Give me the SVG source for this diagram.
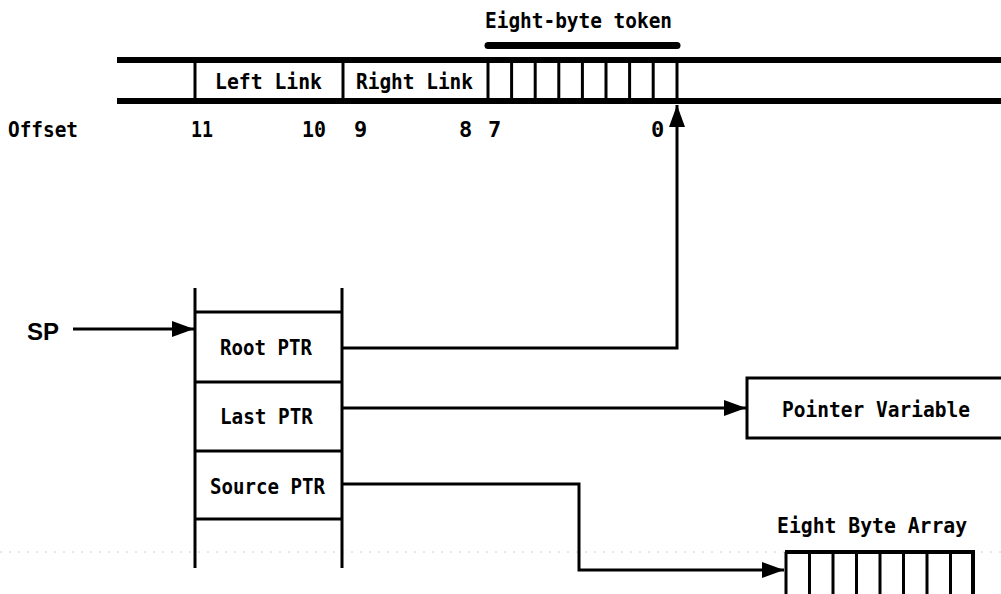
<svg xmlns="http://www.w3.org/2000/svg" width="1001" height="594" viewBox="0 0 1001 594">
<defs>
<style>
.t{font-family:"DejaVu Sans Mono","Liberation Mono",monospace;font-weight:bold;font-size:22px;fill:#000}
.ln{stroke:#000;stroke-width:3;fill:none}
.thick{stroke:#000;stroke-width:6;fill:none}
.cn{stroke:#000;stroke-width:3;fill:none;marker-end:url(#ah)}
</style>
<marker id="ah" markerUnits="userSpaceOnUse" markerWidth="24" markerHeight="18" refX="22" refY="8" orient="auto">
<path d="M0,0 L22,8 L0,16 z" fill="#000"/>
</marker>
</defs>
<rect width="1001" height="594" fill="#fff"/>
<g id="scan-line"><line x1="0" y1="552" x2="1001" y2="552" stroke="#d0d0d0" stroke-width="1" stroke-dasharray="2,7"/></g>
<g id="token-record">
<line class="thick" x1="117" y1="60" x2="1001" y2="60"/>
<line class="thick" x1="117" y1="101" x2="1001" y2="101"/>
<line class="ln" x1="195" y1="60" x2="195" y2="101"/>
<line class="ln" x1="343" y1="60" x2="343" y2="101"/>
<line class="ln" x1="488" y1="60" x2="488" y2="101"/>
<line class="ln" x1="511.6" y1="60" x2="511.6" y2="101"/>
<line class="ln" x1="535.2" y1="60" x2="535.2" y2="101"/>
<line class="ln" x1="558.8" y1="60" x2="558.8" y2="101"/>
<line class="ln" x1="582.4" y1="60" x2="582.4" y2="101"/>
<line class="ln" x1="606" y1="60" x2="606" y2="101"/>
<line class="ln" x1="629.6" y1="60" x2="629.6" y2="101"/>
<line class="ln" x1="653.2" y1="60" x2="653.2" y2="101"/>
<line class="ln" x1="677" y1="60" x2="677" y2="101"/>
<text class="t" x="215" y="89" textLength="107" lengthAdjust="spacingAndGlyphs">Left Link</text>
<text class="t" x="356" y="89" textLength="117" lengthAdjust="spacingAndGlyphs">Right Link</text>
<line x1="488" y1="45.5" x2="677" y2="45.5" stroke="#000" stroke-width="7" stroke-linecap="round"/>
<text class="t" x="485" y="28" textLength="187" lengthAdjust="spacingAndGlyphs">Eight-byte token</text>
</g>
<g id="offsets">
<text class="t" x="8" y="137" textLength="70" lengthAdjust="spacingAndGlyphs">Offset</text>
<text class="t" x="191" y="137" textLength="22" lengthAdjust="spacingAndGlyphs">11</text>
<text class="t" x="302" y="137" textLength="24" lengthAdjust="spacingAndGlyphs">10</text>
<text class="t" x="354" y="137">9</text>
<text class="t" x="459" y="137">8</text>
<text class="t" x="488" y="137">7</text>
<text class="t" x="651" y="137">0</text>
</g>
<g id="sp-label">
<text x="27" y="340" font-family="Liberation Sans, Arial, sans-serif" font-size="24" font-weight="bold" fill="#000">SP</text>
</g>
<g id="stack">
<line class="ln" x1="195" y1="288" x2="195" y2="568"/>
<line class="ln" x1="342" y1="288" x2="342" y2="568"/>
<line class="ln" x1="195" y1="312" x2="342" y2="312"/>
<line class="ln" x1="195" y1="382" x2="342" y2="382"/>
<line class="ln" x1="195" y1="451" x2="342" y2="451"/>
<line class="ln" x1="195" y1="519" x2="342" y2="519"/>
<text class="t" x="220" y="355" textLength="92" lengthAdjust="spacingAndGlyphs">Root PTR</text>
<text class="t" x="220" y="424" textLength="93" lengthAdjust="spacingAndGlyphs">Last PTR</text>
<text class="t" x="210" y="494" textLength="115" lengthAdjust="spacingAndGlyphs">Source PTR</text>
</g>
<g id="pointer-variable">
<path class="ln" d="M1001,378 L747,378 L747,438 L1001,438"/>
<text class="t" x="782" y="417" textLength="188" lengthAdjust="spacingAndGlyphs">Pointer Variable</text>
</g>
<g id="eight-byte-array">
<text class="t" x="777" y="533" textLength="190" lengthAdjust="spacingAndGlyphs">Eight Byte Array</text>
<line x1="785" y1="552" x2="975" y2="552" stroke="#000" stroke-width="4"/>
<line class="ln" x1="786" y1="552" x2="786" y2="594"/>
<line class="ln" x1="809.5" y1="552" x2="809.5" y2="594"/>
<line class="ln" x1="833" y1="552" x2="833" y2="594"/>
<line class="ln" x1="856.5" y1="552" x2="856.5" y2="594"/>
<line class="ln" x1="880" y1="552" x2="880" y2="594"/>
<line class="ln" x1="903.5" y1="552" x2="903.5" y2="594"/>
<line class="ln" x1="927" y1="552" x2="927" y2="594"/>
<line class="ln" x1="950.5" y1="552" x2="950.5" y2="594"/>
<line x1="973" y1="552" x2="973" y2="594" stroke="#000" stroke-width="4"/>
</g>
<g id="connectors">
<line class="cn" x1="73" y1="329" x2="194" y2="329"/>
<path class="cn" d="M342,348 L677,348 L677,105"/>
<line class="cn" x1="342" y1="408" x2="746" y2="408"/>
<path class="cn" d="M342,484 L579,484 L579,570 L784,570"/>
</g>
</svg>
